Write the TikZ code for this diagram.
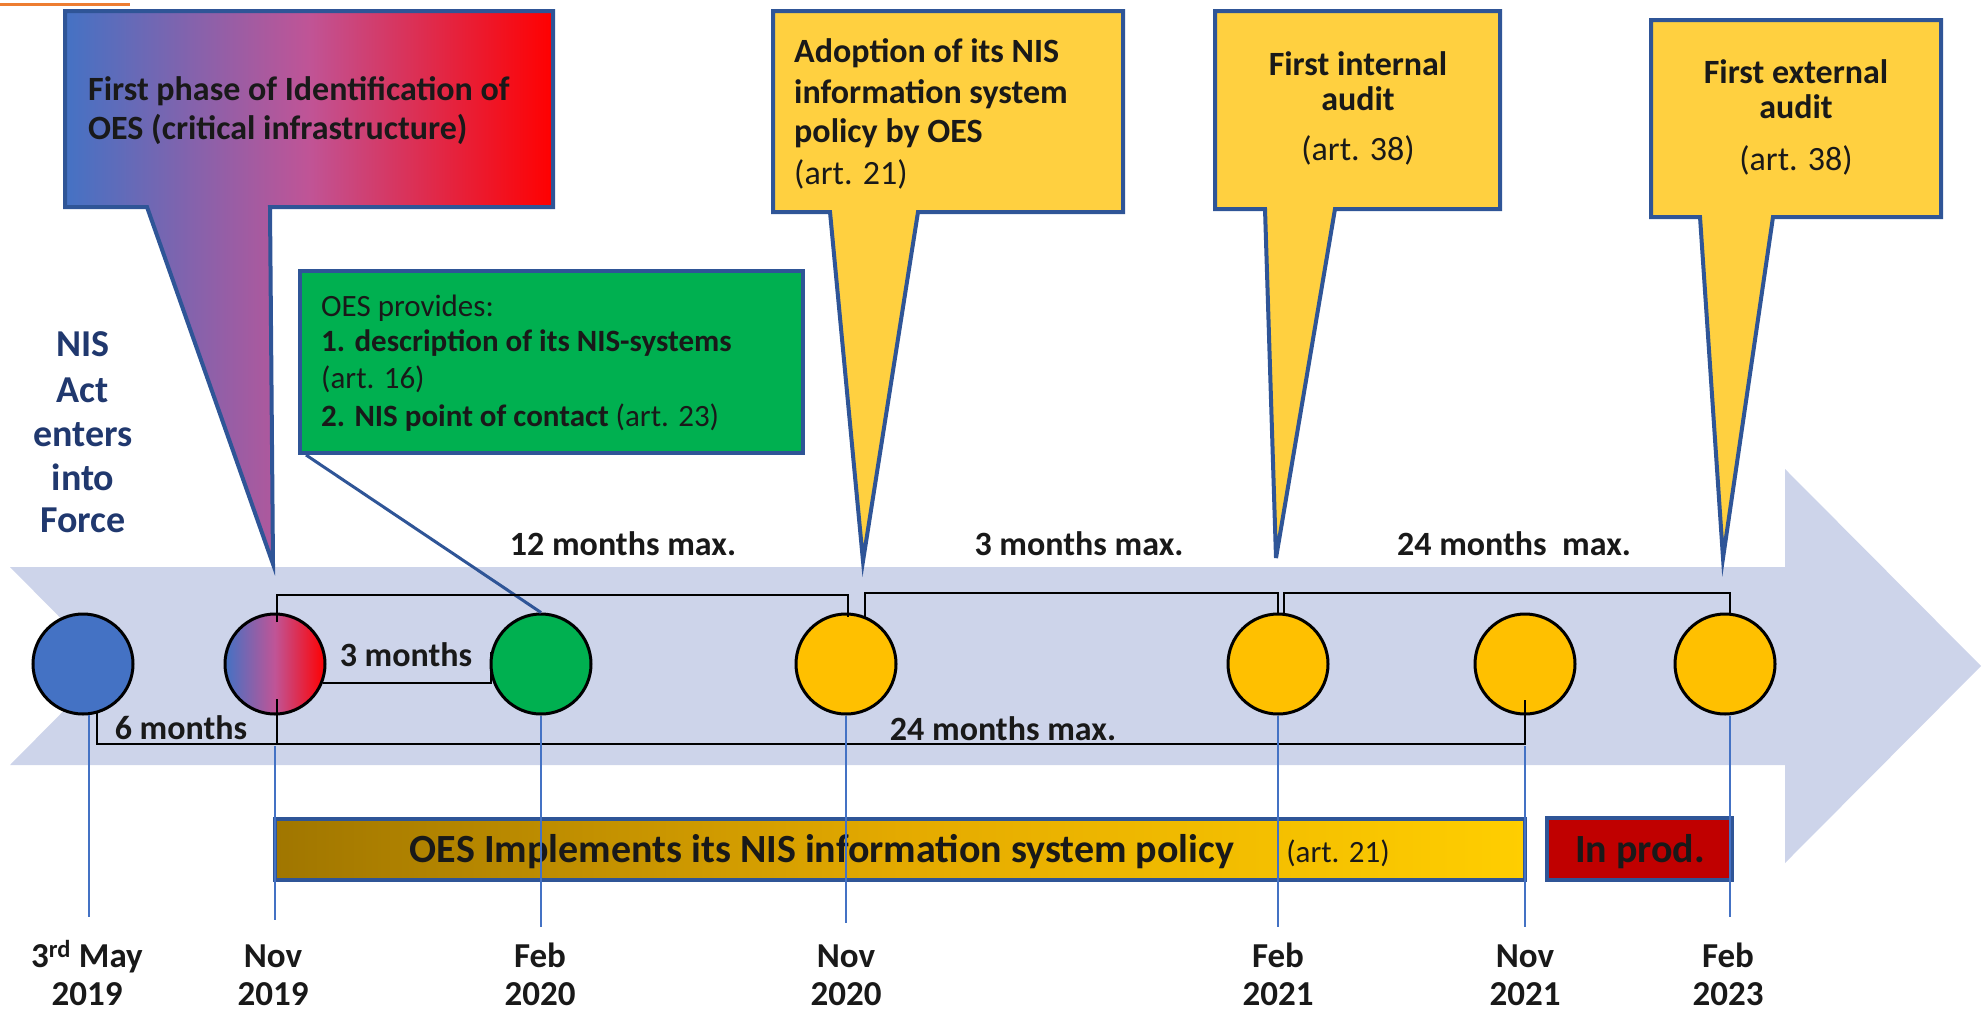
\documentclass[tikz,border=0pt]{standalone}
\usepackage{fontspec}
\setmainfont{Carlito}
\usetikzlibrary{calc}

\definecolor{band}{RGB}{205,212,234}
\definecolor{edge}{RGB}{47,85,151}
\definecolor{dotblue}{RGB}{68,114,196}
\definecolor{mauve}{RGB}{192,84,150}
\definecolor{hotred}{RGB}{255,0,0}
\definecolor{note}{RGB}{255,208,64}
\definecolor{gold}{RGB}{255,192,0}
\definecolor{grn}{RGB}{0,176,80}
\definecolor{navy}{RGB}{32,56,110}
\definecolor{ink}{RGB}{25,25,25}
\definecolor{prodred}{RGB}{192,0,0}
\definecolor{tickblue}{RGB}{68,114,196}
\definecolor{accent}{RGB}{237,125,49}
\definecolor{amberdark}{RGB}{160,118,0}
\definecolor{ambermid}{RGB}{228,170,0}
\definecolor{amberlight}{RGB}{255,206,0}

\begin{document}
\begin{tikzpicture}[x=1pt,y=-1pt,
  dot/.style={circle,draw=black,line width=3pt,minimum size=100pt,inner sep=0pt},
  callout/.style={draw=edge,line width=4pt},
  brk/.style={draw=black,line width=2.5pt},
  tickline/.style={draw=tickblue,line width=1.6pt},
  hd/.style={inner sep=0pt,text=ink,font=\fontsize{34}{40}\selectfont\bfseries},
  rg/.style={inner sep=0pt,text=ink,font=\fontsize{34}{40}\selectfont},
  gbold/.style={inner sep=0pt,text=ink,font=\fontsize{31}{36}\selectfont\bfseries},
  greg/.style={inner sep=0pt,text=ink,font=\fontsize{31}{36}\selectfont},
  nav/.style={inner sep=0pt,text=navy,font=\fontsize{38}{44}\selectfont\bfseries},
  datelbl/.style={inner sep=0pt,anchor=base,text=ink,font=\fontsize{35}{40}\selectfont\bfseries},
  barlbl/.style={inner sep=0pt,anchor=base,text=ink,font=\fontsize{40}{46}\selectfont\bfseries}
]
\useasboundingbox (0,0) rectangle (1988,1012);

% thin accent rule in the corner
\draw[accent,line width=3pt] (0,4) -- (130,4);

% timeline band with notched tail and arrow head
\fill[band] (10,567) -- (1785,567) -- (1785,469) -- (1981,666) -- (1785,863)
  -- (1785,765) -- (10,765) -- (108,666) -- cycle;

% callouts
\path[callout,left color=dotblue,right color=hotred,middle color=mauve]
  (65,11) -- (553,11) -- (553,207) -- (270,207) -- (273,564) -- (147,207) -- (65,207) -- cycle;
\path[callout,fill=note]
  (773,11) -- (1123,11) -- (1123,212) -- (918,212) -- (863,561) -- (830,212) -- (773,212) -- cycle;
\path[callout,fill=note]
  (1215,11) -- (1500,11) -- (1500,209) -- (1335,209) -- (1276,558) -- (1265,209) -- (1215,209) -- cycle;
\path[callout,fill=note]
  (1651,20) -- (1941,20) -- (1941,217) -- (1773,217) -- (1723,558) -- (1700,217) -- (1651,217) -- cycle;

% callout texts
\node[hd,anchor=base west] (p1a) at (88,100) {First phase of Identification of};
\node[hd,anchor=base west] (p1b) at (88,139) {OES (critical infrastructure)};

\node[hd,anchor=base west] (p2a) at (794,62) {Adoption of its NIS};
\node[hd,anchor=base west] (p2b) at (794,103) {information system};
\node[hd,anchor=base west] (p2c) at (794,142) {policy by OES};
\node[rg,anchor=base west] (p2d) at (794,184) {(art. 21)};

\node[hd,anchor=base] (p3a) at (1358,75) {First internal};
\node[hd,anchor=base] (p3b) at (1358,110) {audit};
\node[rg,anchor=base] (p3c) at (1358,160) {(art. 38)};

\node[hd,anchor=base] (p4a) at (1796,83) {First external};
\node[hd,anchor=base] (p4b) at (1796,118) {audit};
\node[rg,anchor=base] (p4c) at (1796,170) {(art. 38)};

% entry into force
\node[nav,anchor=base] (n1) at (83,356) {NIS};
\node[nav,anchor=base] (n2) at (83,402) {Act};
\node[nav,anchor=base] (n3) at (83,446) {enters};
\node[nav,anchor=base] (n4) at (83,490) {into};
\node[nav,anchor=base] (n5) at (83,532) {Force};

% green note
\node[draw=edge,line width=4pt,fill=grn,minimum width=503pt,minimum height=182pt,inner sep=0pt]
  (gbox) at (551.5,362) {};
\node[greg,anchor=base west] (g1) at (321,316) {OES provides:};
\node[gbold,anchor=base west] (g2) at (321,351) {1. description of its NIS-systems};
\node[greg,anchor=base west] (g3) at (321,388) {(art. 16)};
\node[greg,anchor=base west] (g4) at (321,426) {\textbf{2. NIS point of contact} (art. 23)};

% milestones
\node[dot,fill=dotblue] (c1) at (83,664) {};
\node[dot,left color=dotblue,right color=hotred,middle color=mauve] (c2) at (275,664) {};
\node[dot,fill=grn] (c3) at (541,664) {};
\node[dot,fill=gold] (c4) at (846,664) {};
\node[dot,fill=gold] (c5) at (1278,664) {};
\node[dot,fill=gold] (c6) at (1525,664) {};
\node[dot,fill=gold] (c7) at (1725,664) {};

% pointer of the green note
\draw[edge,line width=3pt] ($(gbox.south west)+(8,0)$) -- (c3.north);

% interval brackets
\draw[brk] ($(c1)+(14,49)$) |- ($(c6)+(0,80)$) -- ($(c6)+(0,36)$);
\draw[brk] ($(c2)+(2,80)$) -- ($(c2)+(2,35)$);
\draw[brk] ($(c2)+(48,19)$) -| ($(c3)+(-50,-12)$);
\draw[brk] ($(c2)+(2,-42)$) |- ($(c4)+(2,-69)$) -- ($(c4)+(2,-47)$);
\draw[brk] ($(c4)+(19,-46)$) |- ($(c5)+(0,-71)$) -- ($(c5)+(0,-50)$);
\draw[brk] ($(c5)+(6,-50)$) |- ($(c7)+(5,-71)$) -- ($(c7)+(5,-50)$);

% interval labels
\node[hd,anchor=base] (l12) at (623,555) {12 months max.};
\node[hd,anchor=base] (l3m) at (1079,555) {3 months max.};
\node[hd,anchor=base] (l24t) at (1514,555) {24 months\ \ max.};
\node[hd,anchor=base] (l3) at (406,666) {3 months};
\node[hd,anchor=base] (l6) at (181,739) {6 months};
\node[hd,anchor=base] (l24b) at (1003,740) {24 months max.};

% implementation bar and production box
\node[draw=edge,line width=4pt,minimum width=1250pt,minimum height=61pt,inner sep=0pt,
  left color=amberdark,right color=amberlight,middle color=ambermid] (bar) at (900,849.5) {};
\node[barlbl] (barA) at (822,862) {OES Implements its NIS information system policy};
\node[greg,anchor=base] (barB) at (1338,862) {(art. 21)};
\node[draw=edge,line width=4pt,fill=prodred,minimum width=185pt,minimum height=62pt,inner sep=0pt]
  (prod) at (1639.5,849) {};
\node[barlbl] (prodA) at (1640,862) {In prod.};

% date ticks
\draw[tickline] ($(c1)+(6,51)$) -- ($(c1)+(6,253)$);
\draw[tickline] ($(c2)+(0,82)$) -- ($(c2)+(0,256)$);
\draw[tickline] ($(c3)+(0,52)$) -- ($(c3)+(0,263)$);
\draw[tickline] ($(c4)+(0,52)$) -- ($(c4)+(0,259)$);
\draw[tickline] ($(c5)+(0,52)$) -- ($(c5)+(0,263)$);
\draw[tickline] ($(c6)+(0,82)$) -- ($(c6)+(0,263)$);
\draw[tickline] ($(c7)+(5,52)$) -- ($(c7)+(5,253)$);

% dates
\foreach \x/\a/\b/\n in {87/{3\textsuperscript{rd} May}/2019/1, 273/Nov/2019/2, 540/Feb/2020/3,
    846/Nov/2020/4, 1278/Feb/2021/5, 1525/Nov/2021/6, 1728/Feb/2023/7}{
  \node[datelbl] (d\n a) at (\x,967) {\a};
  \node[datelbl] (d\n b) at (\x,1005) {\b};
}
\end{tikzpicture}
\end{document}
